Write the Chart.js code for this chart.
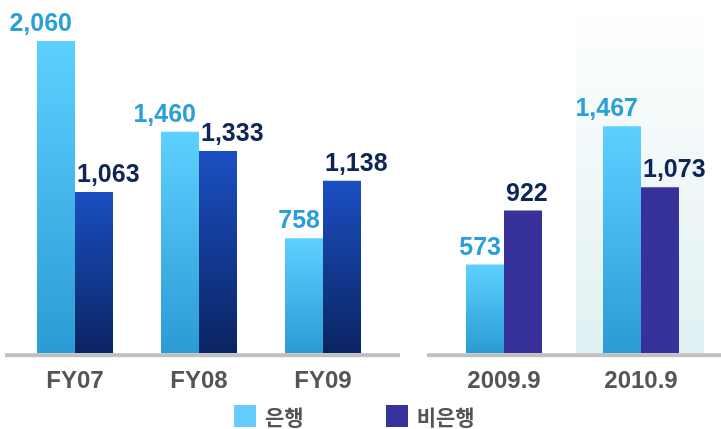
<!DOCTYPE html>
<html>
<head>
<meta charset="utf-8">
<script src="https://cdn.jsdelivr.net/npm/chart.js@4.4.0/dist/chart.umd.min.js"></script>
<style>
    html, body { margin: 0; padding: 0; background: #fff; }
    #wrap { position: relative; width: 721px; height: 429px; overflow: hidden; }
    #leftBox { position: absolute; left: 0; top: 0; width: 410px; height: 429px; }
    #rightBox { position: absolute; left: 410px; top: 0; width: 311px; height: 429px; }
    #legend {
        position: absolute; left: 234px; top: 405px; display: flex; align-items: center;
        font-family: "Noto Sans CJK KR", sans-serif; font-weight: bold; font-size: 21px; color: #555;
        line-height: 22px;
    }
    .item { display: flex; align-items: center; }
    .sw { width: 22px; height: 22px; margin-right: 9px; }
</style>
</head>
<body>
<div id="wrap">
    <div id="leftBox"><canvas id="fyChart" width="410" height="429"></canvas></div>
    <div id="rightBox"><canvas id="qChart" width="311" height="429"></canvas></div>
    <div id="legend"></div>
</div>
<script>
// ---- data ----
const fyLabels = ['FY07', 'FY08', 'FY09'];
const fyBank = [2060, 1460, 758];
const fyNonBank = [1063, 1333, 1138];

const qLabels = ['2009.9', '2010.9'];
const qBank = [573, 1467];
const qNonBank = [922, 1073];

const seriesNames = ['은행', '비은행'];

// ---- colours ----
const Colors = {
    bankTop: '#5dd0ff',
    bankBottom: '#2b9bd5',
    nonBankTop: '#1b4fc2',
    nonBankBottom: '#0a2462',
    nonBankQ: '#37329a',
    bankText: '#2b9fd8',
    nonBankText: '#0d2557',
    axisText: '#555555',
    baseline: '#c0c0c0',
    legendBank: '#66ccff',
    legendNonBank: '#37339a',
};

// gradient running from each bar's top down to zero
function barGradient(top, bottom) {
    return (c) => {
        const chart = c.chart;
        if (!chart.chartArea || !chart.scales.y) return top;
        const y = chart.scales.y;
        const g = chart.ctx.createLinearGradient(0, y.getPixelForValue(c.raw), 0, y.getPixelForValue(0));
        g.addColorStop(0, top);
        g.addColorStop(1, bottom);
        return g;
    };
}

// value labels above bars: bank right-aligned, non-bank left-aligned
const valueLabels = {
    id: 'valueLabels',
    afterDatasetsDraw(chart) {
        const ctx = chart.ctx;
        ctx.save();
        ctx.font = 'bold 25px "Liberation Sans", Arial, sans-serif';
        ctx.textBaseline = 'alphabetic';
        chart.data.datasets.forEach((ds, di) => {
            chart.getDatasetMeta(di).data.forEach((bar, i) => {
                const txt = ds.data[i].toLocaleString('en-US');
                if (di === 0) {
                    ctx.textAlign = 'right';
                    ctx.fillStyle = Colors.bankText;
                    ctx.fillText(txt, bar.x + bar.width / 2 - 3, bar.y - 10);
                } else {
                    ctx.textAlign = 'left';
                    ctx.fillStyle = Colors.nonBankText;
                    ctx.fillText(txt, bar.x - bar.width / 2 + 2, bar.y - 10);
                }
            });
        });
        ctx.restore();
    },
};

// grey base line under each group
const baseline = {
    id: 'baseline',
    afterDatasetsDraw(chart, args, opts) {
        const ctx = chart.ctx;
        ctx.save();
        ctx.fillStyle = Colors.baseline;
        ctx.fillRect(opts.from, chart.chartArea.bottom, opts.to - opts.from, 4);
        ctx.restore();
    },
};

// soft highlight behind the latest period
const highlight = {
    id: 'highlight',
    beforeDatasetsDraw(chart, args, opts) {
        if (opts.index == null) return;
        const ctx = chart.ctx;
        const cx = chart.scales.x.getPixelForValue(opts.index);
        const bottom = chart.chartArea.bottom;
        const g = ctx.createLinearGradient(0, 0, 0, bottom);
        g.addColorStop(0, 'rgba(255,255,255,1)');
        g.addColorStop(1, '#e0f0f2');
        ctx.save();
        ctx.fillStyle = g;
        ctx.fillRect(cx - 65, 0, 128, bottom);
        ctx.restore();
    },
};

function createGroupChart(canvasId, labels, bank, nonBank, nonBankFill, cfg) {
    const canvas = document.getElementById(canvasId);
    return new Chart(canvas, {
        type: 'bar',
        data: {
            labels,
            datasets: [{
                label: seriesNames[0],
                data: bank,
                backgroundColor: barGradient(Colors.bankTop, Colors.bankBottom),
                borderWidth: 0,
                barPercentage: 1,
                categoryPercentage: cfg.catPct,
            }, {
                label: seriesNames[1],
                data: nonBank,
                backgroundColor: nonBankFill,
                borderWidth: 0,
                barPercentage: 1,
                categoryPercentage: cfg.catPct,
            }],
        },
        options: {
            responsive: false,
            animation: false,
            layout: { padding: cfg.padding },
            scales: {
                x: {
                    grid: { display: false, drawTicks: false },
                    border: { display: false },
                    ticks: {
                        color: Colors.axisText,
                        padding: 14,
                        font: { family: '"Liberation Sans", Arial, sans-serif', size: 24, weight: 'bold' },
                    },
                },
                y: { display: false, min: 0, max: cfg.max },
            },
            plugins: {
                legend: { display: false },
                tooltip: { enabled: false },
                baseline: cfg.baseline,
                highlight: cfg.highlight || {},
            },
        },
        plugins: [highlight, baseline, valueLabels],
    });
}

createGroupChart('fyChart', fyLabels, fyBank, fyNonBank,
    barGradient(Colors.nonBankTop, Colors.nonBankBottom), {
        catPct: 76 / 124,
        max: 2132,
        padding: { left: 13, right: 25, top: 30, bottom: 19 },
        baseline: { from: 5, to: 400 },
    });

createGroupChart('qChart', qLabels, qBank, qNonBank, Colors.nonBankQ, {
    catPct: 76 / 137,
    max: 2090,
    padding: { left: 25.5, right: 11.5, top: 30, bottom: 19 },
    baseline: { from: 17, to: 311 },
    highlight: { index: 1 },
});

// legend
const legendEl = document.getElementById('legend');
[[seriesNames[0], Colors.legendBank], [seriesNames[1], Colors.legendNonBank]].forEach(([name, col], i) => {
    const item = document.createElement('div');
    item.className = 'item';
    if (i > 0) item.style.marginLeft = '82px';
    const sw = document.createElement('span');
    sw.className = 'sw';
    sw.style.background = col;
    const tx = document.createElement('span');
    tx.textContent = name;
    item.appendChild(sw);
    item.appendChild(tx);
    legendEl.appendChild(item);
});
</script>
</body>
</html>
